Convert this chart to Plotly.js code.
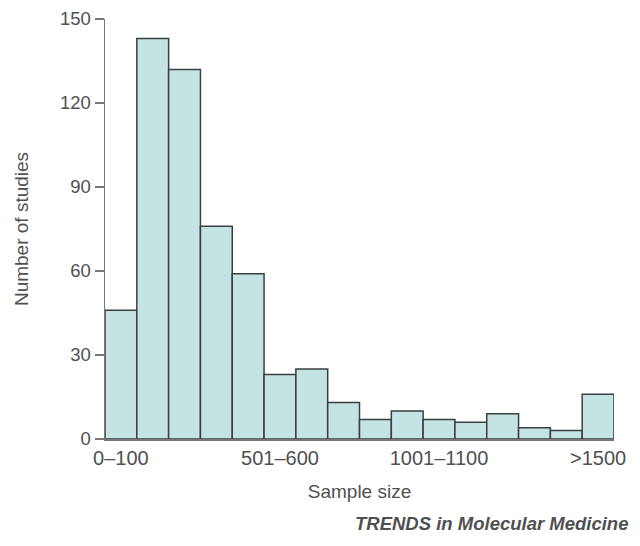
<!DOCTYPE html>
<html><head><meta charset="utf-8">
<script src="https://cdn.plot.ly/plotly-3.0.1.min.js"></script>
<style>body{margin:0;background:#fff}#c{width:640px;height:546px}</style>
</head><body><div id="c"></div>
<script>
const categories = ["0–100","101–200","201–300","301–400","401–500","501–600","601–700","701–800","801–900","901–1000","1001–1100","1101–1200","1201–1300","1301–1400","1401–1500",">1500"];
const counts = [46,143,132,76,59,23,25,13,7,10,7,6,9,4,3,16];
const shownTicks = ["0–100","501–600","1001–1100",">1500"];
const yTicks = [0,30,60,90,120,150];

const fam = "Liberation Sans, Arial, sans-serif";
const col = "#505050";
Plotly.newPlot("c", [{
  type:"bar", x:categories, y:counts,
  marker:{color:"#c5e3e3", line:{color:"#3a3f40", width:1.5}},
  hoverinfo:"none"
}], {
  width:640, height:546,
  margin:{l:105, r:26, t:19, b:107},
  paper_bgcolor:"#fff", plot_bgcolor:"#fff",
  bargap:0, showlegend:false, font:{family:fam, size:18, color:col},
  xaxis:{type:"category", range:[-0.5,15.5], tickmode:"array", tickvals:shownTicks, ticktext:shownTicks,
    showline:true, linecolor:"#777", linewidth:1.5, ticks:"", showgrid:false, zeroline:false,
    tickfont:{family:fam, size:20, color:col}, title:{text:"Sample size", font:{family:fam, size:19, color:col}, standoff:17}},
  yaxis:{range:[0,150], tickmode:"array", tickvals:yTicks, showline:true, linecolor:"#777", linewidth:1.5,
    ticks:"outside", ticklen:9, tickwidth:1.5, tickcolor:"#777", showgrid:false, zeroline:false,
    tickfont:{family:fam, size:18.5, color:col}, title:{text:"Number of studies", font:{family:fam, size:19, color:col}, standoff:26}},
  annotations:[{text:"<b><i>TRENDS in Molecular Medicine</i></b>", xref:"paper", yref:"paper", x:1.031, y:-0.2,
    xanchor:"right", yanchor:"middle", showarrow:false, font:{family:fam, size:18.5, color:col}}]
}, {staticPlot:true});
</script></body></html>
